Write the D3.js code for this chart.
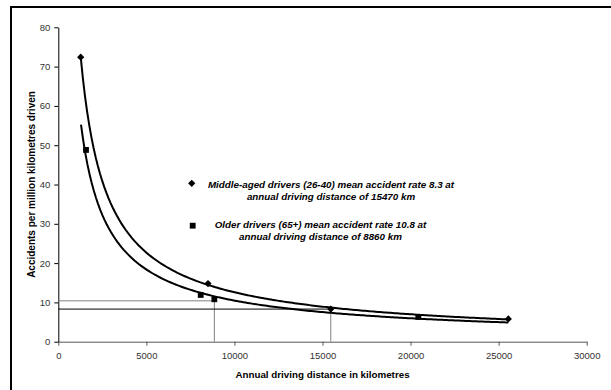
<!DOCTYPE html>
<html>
<head>
<meta charset="utf-8">
<script src="https://cdn.jsdelivr.net/npm/d3@7"></script>
<style>
  html, body { margin: 0; padding: 0; background: #fff; overflow: hidden; }
  svg { display: block; font-family: "Liberation Sans", Arial, sans-serif; }
</style>
</head>
<body>
<svg id="chart" width="611" height="390"></svg>
<script>
// Middle-aged drivers (26-40)
const middleX = [1272, 8500, 15470, 25550];
const middleY = [72.4, 14.8, 8.3, 5.8];
// Older drivers (65+)
const olderX = [1573, 8085, 8860, 20440];
const olderY = [48.8, 11.9, 10.8, 6.3];
// x range over which each power trendline is drawn
const middleTrend = [1272, 25550];
const olderTrend = [1290, 25550];

// reference lines marking the means
const refX = [8860, 15470];
const refY = [10.4, 8.3];
const refColor = ["#808080", "#000"];

const xTicks = [0, 5000, 10000, 15000, 20000, 25000, 30000];
const yTicks = [0, 10, 20, 30, 40, 50, 60, 70, 80];

const legendLines = [
  ["Middle-aged drivers (26-40) mean accident rate 8.3 at", "annual driving distance of 15470 km"],
  ["Older drivers (65+) mean accident rate 10.8 at", "annual driving distance of 8860 km"],
];

const svg = d3.select("#chart");

// chart frame: only its top and left edges fall inside the picture
svg.append("path")
  .attr("d", "M11,400V7H620")
  .attr("fill", "none")
  .attr("stroke", "#000")
  .attr("stroke-width", 2);

const x = d3.scaleLinear().domain([0, 30000]).range([58.3, 586.7]);
const y = d3.scaleLinear().domain([0, 80]).range([341.7, 27.3]);

// axes
const xAxis = svg.append("g")
  .attr("transform", `translate(0,${y(0)})`)
  .call(d3.axisBottom(x).tickValues(xTicks).tickFormat(d3.format("d"))
    .tickSize(4).tickPadding(7).tickSizeOuter(0));
xAxis.select(".domain").attr("stroke", "#555");
xAxis.selectAll(".tick line").attr("stroke", "#555");

const yAxis = svg.append("g")
  .attr("transform", `translate(${x(0)},0)`)
  .call(d3.axisLeft(y).tickValues(yTicks).tickSize(4).tickPadding(4).tickSizeOuter(0));
yAxis.select(".domain").attr("stroke", "#000");
yAxis.selectAll(".tick line").attr("stroke", "#000");

svg.selectAll(".tick text")
  .attr("font-family", "Liberation Sans, Arial, sans-serif")
  .attr("font-size", 9.5)
  .attr("fill", "#333");

// axis titles
svg.append("text")
  .attr("x", (x(0) + x(30000)) / 2).attr("y", 377.5)
  .attr("text-anchor", "middle")
  .attr("font-size", 9.8).attr("font-weight", "bold")
  .text("Annual driving distance in kilometres");

svg.append("text")
  .attr("transform", `translate(34.5,${(y(0) + y(80)) / 2}) rotate(-90)`)
  .attr("text-anchor", "middle")
  .attr("font-size", 10).attr("font-weight", "bold")
  .text("Accidents per million kilometres driven");

// reference lines
refX.forEach((rx, i) => {
  svg.append("line")
    .attr("x1", x(0)).attr("x2", x(rx))
    .attr("y1", y(refY[i])).attr("y2", y(refY[i]))
    .attr("stroke", refColor[i]).attr("stroke-width", 1);
  svg.append("line")
    .attr("x1", x(rx)).attr("x2", x(rx))
    .attr("y1", y(0)).attr("y2", y(refY[i]))
    .attr("stroke", "#808080").attr("stroke-width", 1);
});

// power trendline, least squares in log space
function powerFit(xs, ys) {
  const lx = xs.map(Math.log), ly = ys.map(Math.log);
  const mx = d3.mean(lx), my = d3.mean(ly);
  const b = d3.sum(lx, (v, i) => (v - mx) * (ly[i] - my)) / d3.sum(lx, (v) => (v - mx) ** 2);
  const a = Math.exp(my - b * mx);
  return (v) => a * Math.pow(v, b);
}

const line = d3.line().x((d) => x(d[0])).y((d) => y(d[1]));

function drawTrend(xs, ys, range) {
  const f = powerFit(xs, ys);
  const pts = d3.range(0, 201).map((k) => {
    const v = range[0] + (range[1] - range[0]) * k / 200;
    return [v, f(v)];
  });
  svg.append("path")
    .attr("d", line(pts))
    .attr("fill", "none")
    .attr("stroke", "#000")
    .attr("stroke-width", 2);
}
drawTrend(middleX, middleY, middleTrend);
drawTrend(olderX, olderY, olderTrend);

// markers
const diamond = {
  draw(ctx, size) {
    const r = Math.sqrt(size / 2);
    ctx.moveTo(0, -r); ctx.lineTo(r, 0); ctx.lineTo(0, r); ctx.lineTo(-r, 0); ctx.closePath();
  },
};
const diamondPath = d3.symbol().type(diamond).size(26)();
const squarePath = d3.symbol().type(d3.symbolSquare).size(34)();

svg.append("g").selectAll("path")
  .data(middleX)
  .join("path")
  .attr("transform", (d, i) => `translate(${x(d)},${y(middleY[i])})`)
  .attr("d", diamondPath)
  .attr("fill", "#000");

svg.append("g").selectAll("path")
  .data(olderX)
  .join("path")
  .attr("transform", (d, i) => `translate(${x(d)},${y(olderY[i])})`)
  .attr("d", squarePath)
  .attr("fill", "#000");

// legend
const legendItems = [
  { mark: diamondPath, mx: 191.7, my: 183.3, cx: 331, y0: 187.5 },
  { mark: squarePath, mx: 192.7, my: 225.7, cx: 320.5, y0: 228 },
];
legendItems.forEach((d, i) => {
  svg.append("path")
    .attr("transform", `translate(${d.mx},${d.my})`)
    .attr("d", d.mark)
    .attr("fill", "#000");
  legendLines[i].forEach((t, j) => {
    svg.append("text")
      .attr("x", d.cx).attr("y", d.y0 + j * 12)
      .attr("text-anchor", "middle")
      .attr("font-size", 9.8)
      .attr("font-weight", "bold")
      .attr("font-style", "italic")
      .text(t);
  });
});
</script>
</body>
</html>
